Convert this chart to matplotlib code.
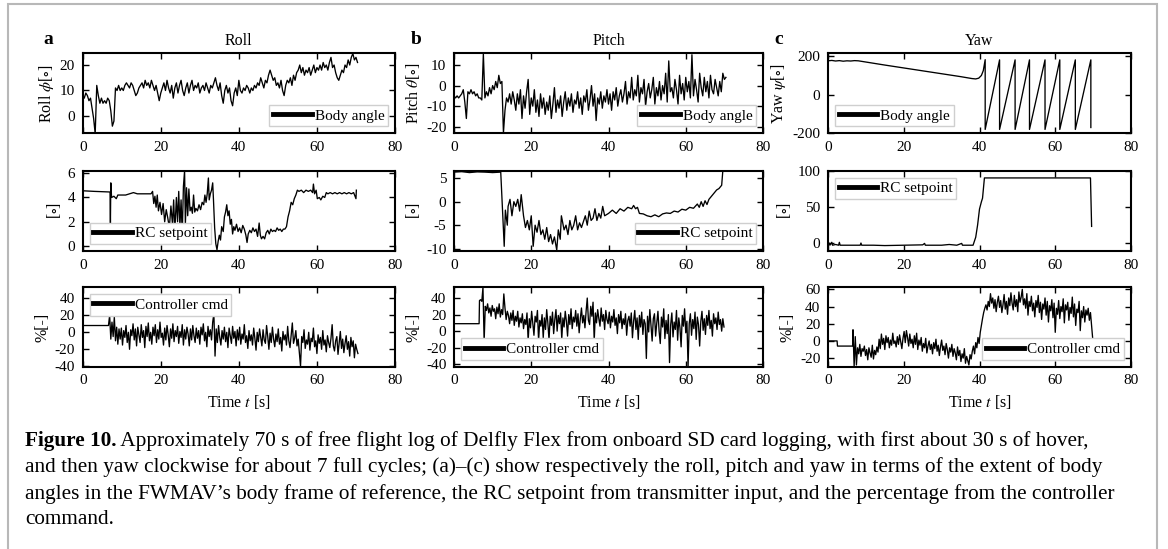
import numpy as np
import matplotlib
matplotlib.use("Agg")
import matplotlib.pyplot as plt
from matplotlib.patches import Rectangle

plt.rcParams['font.family'] = ['Liberation Serif', 'DejaVu Serif']
plt.rcParams['mathtext.fontset'] = 'stix'
plt.rcParams['axes.unicode_minus'] = False

# ---- data (time in s) ----
DT_BODY = 0.4   # sample step used for the body angle traces
DT_CMD = 0.3    # sample step used for the controller traces

roll_body = [8, 7, 9, 8, 6, 7, 3, -1, -7, 12, 8, 5, 7, 5, 6, 5, 7, 6, 2, -4,
             -2, 11, 10, 12, 10, 11, 10, 12, 13, 12, 11, 13, 12, 10, 8, 9, 11, 12, 13, 11,
             14, 12, 13, 11, 14, 12, 10, 12, 9, 6, 9, 11, 13, 10, 14, 11, 9, 12, 7, 11,
             13, 9, 12, 14, 10, 8, 11, 13, 9, 12, 14, 10, 12, 11, 13, 9, 11, 12, 10, 13,
             11, 9, 12, 11, 13, 15, 12, 10, 13, 8, 5, 10, 12, 9, 11, 6, 4, 9, 11, 8,
             14, 10, 9, 11, 10, 12, 11, 9, 11, 10, 12, 11, 13, 12, 15, 13, 11, 14, 13, 16,
             18, 16, 14, 15, 12, 13, 11, 14, 10, 8, 12, 14, 13, 15, 12, 16, 14, 17, 18, 20,
             17, 19, 16, 18, 17, 19, 16, 18, 20, 17, 19, 18, 20, 18, 21, 19, 20, 18, 21, 23,
             19, 20, 17, 15, 14, 16, 18, 17, 20, 19, 22, 20, 23, 24.5, 22, 23, 21]

roll_rc_t = [0, 3, 6.9, 7.0, 7.1, 7.2, 7.4, 8, 8.6, 9, 11, 12, 13, 14, 16, 17.5, 17.9, 18.2, 18.5, 18.8,
             19.1, 19.4, 19.8, 20.2, 20.6, 21.0, 21.4, 21.8, 22.2, 22.6, 23.0, 23.3, 23.6, 24.0, 24.3, 24.6, 24.9, 25.2, 25.5, 25.8,
             26.1, 26.3, 26.6, 26.9, 27.2, 27.5, 27.8, 28.1, 28.4, 28.7, 29.0, 29.4, 29.8, 30.2, 30.6, 31.0, 31.3, 31.6, 31.9, 32.2,
             32.4, 32.7, 33.0, 33.3, 33.5, 33.8, 34.1, 34.4, 34.7, 35.0, 35.3, 35.6, 36.0, 36.3, 36.6, 36.9, 37.2, 37.5, 37.8, 38.1,
             38.4, 38.7, 39.0, 39.4, 39.8, 40.2, 40.6, 41.0, 41.4, 41.8, 42.1, 42.4, 42.8, 43.2, 43.6, 44.0, 44.4, 44.8, 45.2, 45.5,
             45.8, 46.2, 46.6, 47.0, 47.4, 47.8, 48.2, 48.6, 49.0, 49.4, 49.8, 50.2, 50.6, 51.0, 51.4, 51.8, 52.2, 52.6, 53.0, 53.4,
             53.8, 54.2, 54.6, 55.0, 55.4, 56.0, 56.6, 57.2, 57.8, 58.4, 58.9, 59.1, 59.4, 59.8, 60.1, 60.6, 61.0, 61.5, 62.0, 62.4,
             62.8, 63.4, 64.0, 64.6, 65.2, 65.8, 66.4, 67.0, 67.6, 68.2, 68.8, 69.4, 70.0, 70.1]
roll_rc_v = [4.55, 4.5, 4.45, 4.45, 1.9, 5.2, 4.0, 4.1, 3.9, 4.2, 4.2, 4.3, 4.4, 4.3, 4.3, 4.3, 4.5, 3.5, 4.1, 3.2,
             4.2, 2.9, 3.6, 2.6, 3.5, 2.0, 3.0, 2.3, 1.5, 3.3, 1.8, 3.8, 1.2, 4.0, 2.0, 4.5, 1.6, 3.8, 0.9, 4.9,
             6.2, 1.8, 4.8, 2.5, 4.7, 2.9, 3.2, 2.7, 4.2, 2.8, 3.1, 2.9, 3.4, 3.0, 3.6, 3.4, 4.2, 3.6, 4.3, 5.6,
             3.8, 4.3, 4.6, 5.2, 3.8, 1.5, 0.2, -0.3, 0.4, 0.9, 0.5, 1.6, 1.2, 2.4, 2.8, 3.4, 2.5, 2.9, 1.8, 2.2,
             1.0, 1.6, 1.3, 1.8, 1.2, 1.5, 1.1, 1.7, 1.4, 0.9, 0.3, 1.0, 1.3, 1.1, 1.5, 1.2, 1.4, 0.8, 1.9, 0.9,
             0.6, 0.8, 0.6, 1.1, 1.3, 1.0, 1.4, 1.2, 1.3, 1.2, 1.5, 1.3, 1.4, 1.2, 1.4, 1.4, 1.6, 2.4, 2.9, 3.6,
             3.4, 3.9, 4.2, 4.6, 4.5, 4.6, 4.4, 4.6, 4.5, 4.6, 4.4, 5.1, 4.3, 4.6, 3.9, 4.0, 3.8, 4.1, 4.0, 4.4,
             4.3, 4.4, 4.3, 4.4, 4.3, 4.4, 4.3, 4.4, 4.3, 4.4, 4.3, 4.4, 3.9, 4.6]

roll_cmd_hold_t = [0, 6.5]
roll_cmd_hold_v = [8, 8]
roll_cmd = [8, 20, -8, 12, -5, 18, -10, 6, -14, 4,
            -8, 5, -15, 2, -6, 8, -12, 0, -20, 3,
            -4, 10, -9, 4, -16, 6, -3, -12, 9, -6,
            2, -18, 7, -5, 11, -10, 0, -14, 6, -4,
            9, -12, 3, -8, 12, -6, -1, -15, 5, -9,
            8, -3, -17, 4, -7, 10, -11, 2, -5, 7,
            -13, 1, -6, 9, -15, 3, -8, 6, -2, -16,
            4, -9, 8, -4, -12, 5, -7, 2, -14, 6,
            -3, 10, -10, 0, -17, 7, -5, 3, -9, 12,
            22, -28, 4, -12, 8, -6, -15, 2, -8, 6,
            -11, 0, -18, 5, -4, -13, 7, -7, 1, -16,
            3, -9, 6, -14, -2, -8, 9, -12, -4, -19,
            2, -10, -3, -15, 5, -7, -21, 0, -11, 4,
            -6, -16, 3, -9, -13, 8, -5, -20, -1, -12,
            6, -8, -17, -2, -11, 4, -14, -6, -22, 1,
            -9, -3, -15, 7, -10, -18, -4, 11, -13, -7,
            2, -16, -8, -24, -40, -5, -12, 3, -19, -9,
            -14, 0, -21, -7, -11, 5, -17, -10, -25, -3,
            -13, -6, -20, 2, -15, -9, -23, -4, -12, -18,
            -7, 9, -16, -22, -10, -5, -26, -12, 1, -19,
            -8, -24, -13, -4, -20, -11, -28, -6, -17, -10,
            -30, -14, -20, -25]

pitch_body = [-5, -6, -5, -6, -5, -4, -2, -8, -16, -3, -4, -2, -4, -3, -5, -4, -6, -6, -7, 15.5,
              -6, -3, -5, -1, -4, 0, -2, 2, -1, 5, 1, 2, -23, -12, -6, -8, -4, -9, -3, -7,
              -12, -4, -9, -2, -16, -5, -11, -3, 3, -14, -6, -10, -2, -13, -7, -15, -4, -11, -6, -14,
              -8, -12, -5, -16, -9, -1, -13, -7, -11, -5, -15, -8, -3, -12, -6, -10, -4, -13, -7, -9,
              -3, -11, -6, -14, -5, -8, -2, -12, -7, 0, -10, -4, -17, -6, -9, -3, -11, -5, -8, -2,
              -9, -4, -12, -3, -7, -1, -10, -5, -2, -8, -4, 2, -9, -3, -6, 4, -7, -2, -5, 5,
              -8, -1, -4, 3, -10, -3, 1, -6, -2, 4, -9, -1, -5, 2, -7, 0, -4, 6, -8, 12,
              -3, -1, -6, 3, -2, -9, 5, -4, 1, -7, 4, -3, 2, -6, 15, -5, 3, -2, -8, 6,
              -1, -5, 4, -3, 2, -6, 5, -2, -4, 3, -1, -5, 2, -3, 6, 3, 4]

pitch_rc_t = [0, 2, 4, 6, 8, 10, 12.1, 13.0, 13.3, 13.8, 14.0, 14.5, 15.0, 15.5, 16.0, 16.5, 17.0, 17.4, 18.0, 18.5,
              19.0, 19.5, 20.0, 20.5, 21.0, 21.5, 22.0, 22.5, 23.0, 23.5, 24.0, 24.5, 25.0, 25.5, 26.0, 26.6, 27.0, 27.5, 27.8, 28.5,
              29.0, 29.5, 30.0, 30.5, 31.0, 31.5, 32.0, 32.5, 33.0, 34.0, 34.5, 35.0, 35.5, 36.0, 36.5, 37.0, 37.5, 38.0, 38.5, 39.0,
              40, 41, 42, 43, 44, 45, 46, 46.5, 47, 47.5, 48, 49, 50, 51, 52, 53, 54, 55, 56, 57,
              58, 59, 60, 61, 62, 63, 63.5, 64, 64.5, 65, 65.5, 66, 66.5, 67, 67.5, 68, 68.6, 69.3, 69.6]
pitch_rc_v = [6.3, 6.4, 6.2, 6.35, 6.3, 6.2, 6.3, -9.5, -1.8, -5, -1, 0.5, -3, 0, -1, 0.5, -2, 1.5, -3, -5.5,
              -4, -6, -3, -9.5, -5, -6.5, -4, -7, -6, -8, -5.5, -8.5, -7, -9, -7.5, -10.3, -6, -8, -3, -6,
              -5, -7, -4, -6, -5, -3, -6, -4.5, -5.5, -3, -5, -2, -4, -3.5, -1.5, -4, -2.5, -3.5, -1, -3,
              -2.5, -1.8, -2.5, -1.5, -2, -1.2, -1.5, -0.8, -1.5, -1.2, -2.5, -2.6, -3, -3.2, -2.8, -3.2, -2.6, -2.4, -2.5, -2.0,
              -2.2, -1.6, -1.8, -1.2, -1.4, -0.5, -1.2, 0, -1, 0.2, -0.6, 0.5, 1, 1.5, 2, 2.5, 2.8, 3.5, 6.6]

pitch_cmd_hold_t = [0, 6.5]
pitch_cmd_hold_v = [9, 9]
pitch_cmd = [37, 38, 36, 53, -13, 30, 25, 33, 22, 28,
             18, 31, 24, 27, 15, 29, 21, 33, 17, 26,
             20, 45, 28, 14, 24, 19, 9, 22, 13, 25,
             7, 18, 12, 24, 5, 16, 10, 21, 3, 14,
             8, 22, -12, 15, 4, 24, 9, -5, 18, 11,
             25, -12, 13, 6, 20, -8, 16, 2, 26, 10,
             -11, 18, 7, 23, -3, 14, 26, 0, 19, 9,
             22, -10, 16, 5, 24, 12, -6, 20, 8, 27,
             3, 17, 11, 25, 6, 21, -2, 15, 28, 10,
             19, 4, 24, 40, 13, 8, 30, 18, 35, -12,
             22, 10, 26, 15, 6, 28, 12, 20, 2, 25,
             14, 9, 23, 4, 18, 11, 26, 7, 16, -3,
             20, 10, 24, 3, 15, 8, 21, -5, 13, 18,
             6, 22, -8, 12, 25, 2, 16, -10, 19, 5,
             23, -4, 14, 9, -33, 18, -1, 26, 7, -12,
             15, 21, -6, 10, 24, 0, -15, 17, 5, 27,
             -9, 13, -3, 20, -38, 8, 22, -7, 11, 2,
             25, -11, 16, 4, -19, 19, 6, 27, -2, 12,
             -43, 9, 21, -5, 14, 3, 23, -10, 17, 8,
             -18, 12, 24, 1, 15, -4, 19, 7, 25, 3,
             13, -6, 21, 9, 16, 2, 23, 8, 14, 0,
             15, 5]

yaw_body_t = [0, 1, 2, 3, 4, 5, 6, 7, 8, 15, 20, 25, 30, 35, 38, 39, 39.8, 40.5, 41.0,
              41.5, 41.5, 45.3, 45.3, 49.4, 49.4, 53.2, 53.2, 57.3, 57.3, 61.2, 61.2, 65.3, 65.3, 69.4, 69.4]
yaw_body_v = [176, 178, 175, 177, 174, 176, 175, 177, 176, 154, 139, 124, 109, 94, 84, 82, 86, 100, 125,
              182, -180, 181, -180, 181, -180, 181, -180, 181, -180, 181, -180, 181, -180, 181, -170]

yaw_rc_t = [0, 0.3, 0.5, 1.0, 1.2, 2.0, 2.8, 3.0, 3.2, 6, 8.5, 8.7, 8.9, 12, 15, 20, 25, 25.5, 25.7, 30,
            32, 34, 35.3, 35.5, 38.3, 39, 39.5, 40, 40.5, 40.8, 41.3, 69.3, 69.6]
yaw_rc_v = [-3, 0, -3, 1, -3, -2, -3, 1, -3, -3, -3, 0, -3, -3, -3.5, -3, -2.5, -0.5, -3, -3,
            -2, -3, -0.5, -3, -3, 8, 25, 47, 57, 62, 90, 90, 23]

yaw_cmd_hold_t = [0, 2.4, 2.5, 6.5]
yaw_cmd_hold_v = [0, 0, -6, -6]
yaw_cmd = [13, -30, 5, -28, -8, -15, -4, -18, -9, -12,
           -6, -17, -10, -22, -8, -14, -19, -5, -21, -11,
           -16, -7, -13, 2, -9, 8, -4, 3, -10, 6,
           -2, 4, -8, 1, -5, 9, -3, 0, -7, 5,
           -4, 7, -1, -9, 3, 11, -2, 12, 4, -6,
           8, -3, 2, -8, 6, -4, 9, -10, 1, -5,
           4, -12, -3, -8, 3, -14, -6, 0, -10, -4,
           -15, -2, -9, 2, -12, -5, -17, -7, 1, -11,
           -6, -16, -3, -10, -20, -8, -13, -4, -18, -9,
           -14, -22, -7, -17, -11, -24, -15, -20, -9, -26,
           -18, -23, -28, -16, -21, -12, -6, -15, -2, -8,
           4, -3, 10, 18, 26, 33, 38, 42, 36, 46,
           40, 55, 44, 50, 38, 48, 34, 45, 52, 39,
           47, 33, 42, 54, 37, 46, 31, 50, 41, 56,
           44, 36, 53, 40, 48, 34, 57, 45, 51, 60,
           42, 49, 38, 55, 30, 46, 40, 52, 35, 44,
           28, 47, 39, 53, 33, 45, 25, 43, 37, 50,
           30, 46, 22, 41, 35, 48, 27, 44, 10, 38,
           31, 47, 26, 40, 34, 49, 21, 42, 36, 45,
           24, 39, 32, 51, 28, 43, 18, 37, 33, 46,
           12, 35, 27, 40, 22, 36, 30, 38, 24, 33,
           18, 2]

col_titles = ["Roll", "Pitch", "Yaw"]
col_letters = ["a", "b", "c"]
row1_ylabels = [r"Roll $\phi$[$\circ$]", r"Pitch $\theta$[$\circ$]", r"Yaw $\psi$[$\circ$]"]
row2_ylabel = r"[$\circ$]"
row3_ylabel = "%[-]"
legend_labels = ["Body angle", "RC setpoint", "Controller cmd"]

caption_bold = "Figure 10."
caption_lines = [
    " Approximately 70 s of free flight log of Delfly Flex from onboard SD card logging, with first about 30 s of hover,",
    "and then yaw clockwise for about 7 full cycles; (a)\u2013(c) show respectively the roll, pitch and yaw in terms of the extent of body",
    "angles in the FWMAV\u2019s body frame of reference, the RC setpoint from transmitter input, and the percentage from the controller",
    "command.",
]


def body_t(v):
    return np.arange(len(v)) * DT_BODY


def cmd_series(hold_t, hold_v, v):
    t = np.concatenate([hold_t, 6.6 + np.arange(len(v)) * DT_CMD])
    return t, np.concatenate([hold_v, v])


series = [
    [(body_t(roll_body), roll_body), (roll_rc_t, roll_rc_v), cmd_series(roll_cmd_hold_t, roll_cmd_hold_v, roll_cmd)],
    [(body_t(pitch_body), pitch_body), (pitch_rc_t, pitch_rc_v), cmd_series(pitch_cmd_hold_t, pitch_cmd_hold_v, pitch_cmd)],
    [(yaw_body_t, yaw_body_v), (yaw_rc_t, yaw_rc_v), cmd_series(yaw_cmd_hold_t, yaw_cmd_hold_v, yaw_cmd)],
]

ylims = [
    [(-6.8, 24.6), (-0.4, 6.2), (-40.5, 53)],
    [(-23.2, 15.7), (-10.5, 6.6), (-43, 53)],
    [(-200, 215), (-11, 100), (-30, 62.4)],
]
yticks = [
    [[0, 10, 20], [0, 2, 4, 6], [-40, -20, 0, 20, 40]],
    [[-20, -10, 0, 10], [-10, -5, 0, 5], [-40, -20, 0, 20, 40]],
    [[-200, 0, 200], [0, 50, 100], [-20, 0, 20, 40, 60]],
]
legend_locs = [
    ["lower right", "lower left", "upper left"],
    ["lower right", "lower right", "lower left"],
    ["lower left", "upper left", "lower right"],
]

W, H = 1168, 549
fig = plt.figure(figsize=(W / 100, H / 100), dpi=100)

col_px = [(82.7, 395), (454, 763), (828, 1131)]
row_px = [(53.3, 133.3), (170.7, 251), (287.3, 366.7)]

for c in range(3):
    for r in range(3):
        x0, x1 = col_px[c]
        y0, y1 = row_px[r]
        ax = fig.add_axes([x0 / W, 1 - y1 / H, (x1 - x0) / W, (y1 - y0) / H])
        t, v = series[c][r]
        ax.plot(t, v, color="black", lw=0.95, label=legend_labels[r])
        ax.set_xlim(0, 80)
        ax.set_xticks([0, 20, 40, 60, 80])
        ax.set_ylim(*ylims[c][r])
        ax.set_yticks(yticks[c][r])
        ax.tick_params(direction="in", top=True, right=True, length=4, width=1,
                       labelsize=11, pad=5.5)
        for s in ax.spines.values():
            s.set_linewidth(1.5)
        if r == 0:
            ax.set_ylabel(row1_ylabels[c], fontsize=11.5, labelpad=3)
            ax.set_title(col_titles[c], fontsize=11.5, pad=6)
        elif r == 1:
            ax.set_ylabel(row2_ylabel, fontsize=11.5, labelpad=3)
        else:
            ax.set_ylabel(row3_ylabel, fontsize=11.5, labelpad=3)
            ax.set_xlabel(r"Time $t$ [s]", fontsize=11.5, labelpad=4)
        leg = ax.legend(loc=legend_locs[c][r], fancybox=False, framealpha=1,
                        edgecolor="#cfcfcf", fontsize=11, handlelength=2.5,
                        handletextpad=0.2, borderpad=0.25, borderaxespad=0.45)
        leg.get_frame().set_linewidth(1.0)
        for h in leg.legend_handles:
            h.set_linewidth(3.5)

# panel letters
letter_x = [48, 416, 779]
for c in range(3):
    fig.text(letter_x[c] / W, 1 - 40 / H, col_letters[c], fontsize=14,
             fontweight="bold", ha="center", va="center")

# frame around the figure
fig.add_artist(Rectangle((8 / W, -0.05), (1157 - 8) / W, 1.05 - 4 / H,
                         transform=fig.transFigure, fill=False,
                         edgecolor="#b8b8b8", lw=1.5, clip_on=False))

# caption
cap_size = 15.3
line_y = [441, 467, 494, 520]
fig.canvas.draw()
renderer = fig.canvas.get_renderer()
tb = fig.text(25 / W, 1 - line_y[0] / H, caption_bold, fontsize=cap_size,
              fontweight="bold", va="center", ha="left")
bb = tb.get_window_extent(renderer=renderer)
fig.text(bb.x1 / W, 1 - line_y[0] / H, caption_lines[0], fontsize=cap_size,
         va="center", ha="left")
for i in range(1, 4):
    fig.text(25 / W, 1 - line_y[i] / H, caption_lines[i], fontsize=cap_size,
             va="center", ha="left")

fig.savefig("out.png", dpi=100)
